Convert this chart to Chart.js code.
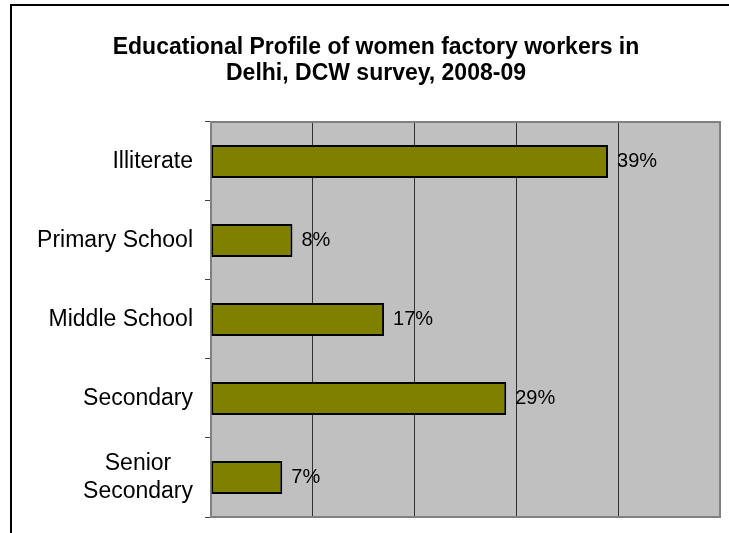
<!DOCTYPE html>
<html>
<head>
<meta charset="utf-8">
<script src="https://cdn.jsdelivr.net/npm/chart.js@4.4.0/dist/chart.umd.min.js"></script>
<style>
  html, body { margin: 0; padding: 0; background: #fff; }
  #wrap { width: 729px; height: 533px; position: relative; }
</style>
</head>
<body>
<div id="wrap"><canvas id="eduChart"></canvas></div>
<script>
// Chart data
const categories = ['Illiterate', 'Primary School', 'Middle School', 'Secondary', ['Senior', 'Secondary']];
const shares = [39, 8, 17, 29, 7];
const xTicks = [0, 10, 20, 30, 40, 50];
const titleLines = ['Educational Profile of women factory workers in', 'Delhi, DCW survey, 2008-09'];

const FONT = '"Liberation Sans", Arial, sans-serif';

// Grey plot background + outer frame
const plotBackground = {
  id: 'plotBackground',
  beforeDraw(chart) {
    const { ctx, chartArea: a } = chart;
    ctx.save();
    ctx.fillStyle = '#C0C0C0';
    ctx.fillRect(a.left, a.top, a.right - a.left, a.bottom - a.top);
    // chart frame (runs off the right and bottom edges)
    ctx.strokeStyle = '#000';
    ctx.lineWidth = 2;
    ctx.strokeRect(11, 5, 800, 600);
    ctx.restore();
  },
  beforeDatasetsDraw(chart) {
    const { ctx, chartArea: a } = chart;
    ctx.save();
    ctx.strokeStyle = '#808080';
    ctx.lineWidth = 2;
    ctx.beginPath();
    ctx.moveTo(a.left, a.top);
    ctx.lineTo(a.right, a.top);
    ctx.lineTo(a.right, a.bottom);
    ctx.stroke();
    ctx.restore();
  }
};

// Category labels: right aligned, multi-line ones centred as a block
const categoryLabels = {
  id: 'categoryLabels',
  afterDraw(chart) {
    const { ctx } = chart;
    const yScale = chart.scales.y;
    const right = yScale.right - 18;
    const lineH = 28;
    ctx.save();
    ctx.font = '23px ' + FONT;
    ctx.fillStyle = '#000';
    ctx.textAlign = 'center';
    ctx.textBaseline = 'middle';
    categories.forEach((lab, i) => {
      const lines = Array.isArray(lab) ? lab : [lab];
      const w = Math.max(...lines.map(l => ctx.measureText(l).width));
      const cx = right - w / 2;
      const cy = yScale.getPixelForValue(i);
      lines.forEach((l, j) => {
        ctx.fillText(l, cx, cy + (j - (lines.length - 1) / 2) * lineH);
      });
    });
    ctx.restore();
  }
};

// Percent labels next to each bar
const valueLabels = {
  id: 'valueLabels',
  afterDatasetsDraw(chart) {
    const { ctx } = chart;
    const meta = chart.getDatasetMeta(0);
    ctx.save();
    ctx.font = '20px ' + FONT;
    ctx.fillStyle = '#000';
    ctx.textAlign = 'left';
    ctx.textBaseline = 'middle';
    meta.data.forEach((bar, i) => {
      ctx.fillText(shares[i] + '%', bar.x + 9, bar.y);
    });
    ctx.restore();
  }
};

new Chart(document.getElementById('eduChart'), {
  type: 'bar',
  data: {
    labels: categories,
    datasets: [{
      data: shares,
      backgroundColor: '#808000',
      borderColor: '#000',
      borderWidth: 2,
      borderSkipped: false,
      categoryPercentage: 1,
      barPercentage: 0.42
    }]
  },
  options: {
    indexAxis: 'y',
    responsive: true,
    maintainAspectRatio: false,
    animation: false,
    layout: { padding: { left: 32, right: 9, top: 0, bottom: 16 } },
    plugins: {
      legend: { display: false },
      tooltip: { enabled: false },
      title: {
        display: true,
        text: titleLines,
        color: '#000',
        font: { family: FONT, size: 23, weight: 'bold', lineHeight: 1.13 },
        padding: { top: 35, bottom: 35 }
      }
    },
    scales: {
      x: {
        min: xTicks[0],
        max: xTicks[xTicks.length - 1],
        afterBuildTicks(scale) {
          scale.ticks = xTicks.map(v => ({ value: v }));
        },
        afterFit(scale) { scale.height = 0; },
        ticks: { display: false },
        grid: { color: '#303030', lineWidth: 1, drawTicks: false },
        border: { display: true, color: '#808080', width: 2 }
      },
      y: {
        afterFit(scale) { scale.width = 179; },
        ticks: { display: false },
        grid: {
          drawOnChartArea: false,
          drawTicks: true,
          tickLength: 6,
          tickColor: '#404040',
          lineWidth: 1
        },
        border: { display: true, color: '#808080', width: 2 }
      }
    }
  },
  plugins: [plotBackground, categoryLabels, valueLabels]
});
</script>
</body>
</html>
